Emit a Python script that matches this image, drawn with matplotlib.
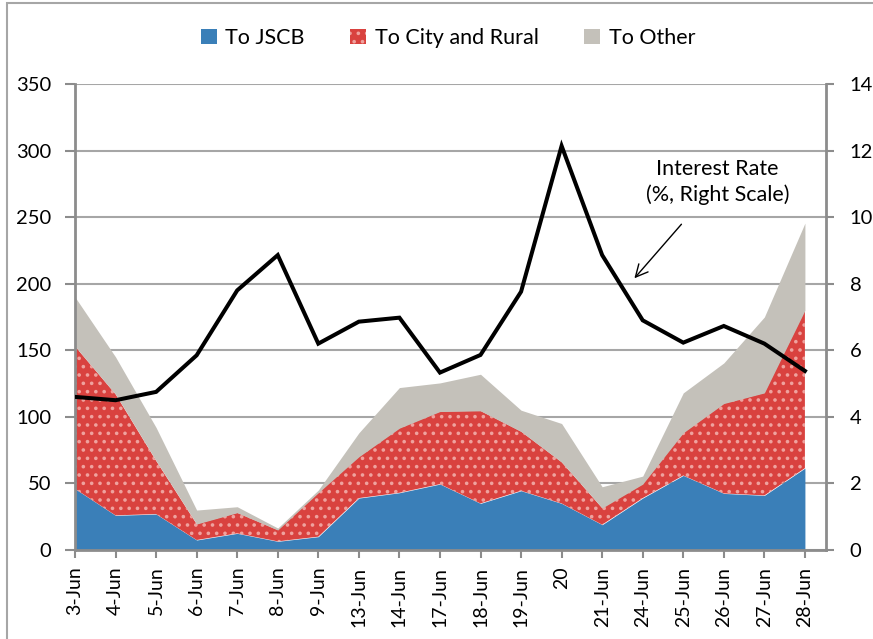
import matplotlib
matplotlib.use("Agg")
import matplotlib.pyplot as plt
from matplotlib.patches import Rectangle, Patch
import numpy as np

plt.rcParams['font.family'] = ['Lato', 'DejaVu Sans']
plt.rcParams['hatch.linewidth'] = 1.4

categories = ["3-Jun", "4-Jun", "5-Jun", "6-Jun", "7-Jun", "8-Jun", "9-Jun", "13-Jun", "14-Jun",
              "17-Jun", "18-Jun", "19-Jun", "20", "21-Jun", "24-Jun", "25-Jun", "26-Jun", "27-Jun", "28-Jun"]
to_jscb = [46, 26, 27, 7.5, 12.5, 6.5, 10, 39, 43, 49.5, 35, 44.5, 35, 19, 39, 56, 42.5, 41, 61.5]
to_city_rural = [107, 91, 40, 12, 15.5, 8.5, 33, 31, 48.5, 54.5, 69.5, 44.5, 31, 12.5, 10.5, 32, 67.5, 77, 118.5]
to_other = [37, 28, 25, 10.5, 4.5, 1.5, 2, 18, 30.5, 21.5, 27.5, 16, 29, 16, 6, 30, 30.5, 57, 65.5]
interest_rate = [4.6, 4.5, 4.75, 5.85, 7.8, 8.86, 6.2, 6.86, 6.98, 5.33, 5.86, 7.76, 12.14, 8.86, 6.9, 6.23, 6.73, 6.2, 5.38]

left_ticks = [0, 50, 100, 150, 200, 250, 300, 350]
right_ticks = [0, 2, 4, 6, 8, 10, 12, 14]

blue = '#3A7FB8'
red = '#D9423F'
grey = '#C4C1BA'
axis_grey = '#8C8C8C'

fig = plt.figure(figsize=(8.73, 6.39), dpi=100)
# outer frame
fig.patches.append(Rectangle((7/873, -0.02), 1.02, 1 - 3/639 + 0.02, transform=fig.transFigure,
                             fill=False, edgecolor='#A6A6A6', linewidth=1.5))

ax = fig.add_axes([75/873, 1 - 550/639, (826 - 75)/873, (550 - 84)/639])
x = np.arange(len(categories))
b = np.array(to_jscb)
r = np.array(to_city_rural)
g = np.array(to_other)

ax.fill_between(x, 0, b, color=blue, linewidth=0, zorder=2)
ax.fill_between(x, b, b + r, facecolor=red, edgecolor='#EFA29E', hatch='..', linewidth=0, zorder=2)
ax.fill_between(x, b + r, b + r + g, color=grey, linewidth=0, zorder=2)

ax.set_xlim(0, 18.52)
ax.set_ylim(0, 350)
ax.set_yticks(left_ticks)
ax.set_xticks(x)
ax.set_xticklabels(categories, rotation=90, fontsize=14)
ax.tick_params(axis='y', labelsize=14.5, length=7, width=1.5, color=axis_grey, pad=10)
ax.tick_params(axis='x', length=6, width=1.5, color=axis_grey, pad=6)
ax.grid(axis='y', color='#A6A6A6', linewidth=1.5, zorder=0)
ax.set_axisbelow(True)
for s in ['top', 'right']:
    ax.spines[s].set_visible(False)
for s in ['left', 'bottom']:
    ax.spines[s].set_color(axis_grey)
    ax.spines[s].set_linewidth(2)

ax2 = ax.twinx()
ax2.plot(x, interest_rate, color='black', linewidth=2.9, zorder=5, solid_joinstyle='miter')
ax2.set_ylim(0, 14)
ax2.set_yticks(right_ticks)
ax2.tick_params(axis='y', labelsize=14.5, length=6, width=1.5, color=axis_grey, pad=11)
for s in ['top', 'left', 'bottom']:
    ax2.spines[s].set_visible(False)
ax2.spines['right'].set_color(axis_grey)
ax2.spines['right'].set_linewidth(2)

ax2.text(15.85, 11.05, "Interest Rate\n(%, Right Scale)", ha='center', va='center',
         fontsize=15.5, linespacing=1.35)
ax2.annotate("", xy=(13.75, 8.1), xytext=(15.0, 9.85),
             arrowprops=dict(arrowstyle='->', color='black', lw=1.0, mutation_scale=22))

handles = [Patch(facecolor=blue, linewidth=0),
           Patch(facecolor=red, edgecolor='#EFA29E', hatch='..', linewidth=0),
           Patch(facecolor=grey, linewidth=0)]
fig.legend(handles, ["To JSCB", "To City and Rural", "To Other"], loc='center',
           bbox_to_anchor=(448/873, 1 - 38/639), ncol=3, frameon=False, fontsize=15.5,
           handlelength=0.75, handleheight=0.75, handletextpad=0.4, columnspacing=2.1)

fig.savefig("out.png", dpi=100)
